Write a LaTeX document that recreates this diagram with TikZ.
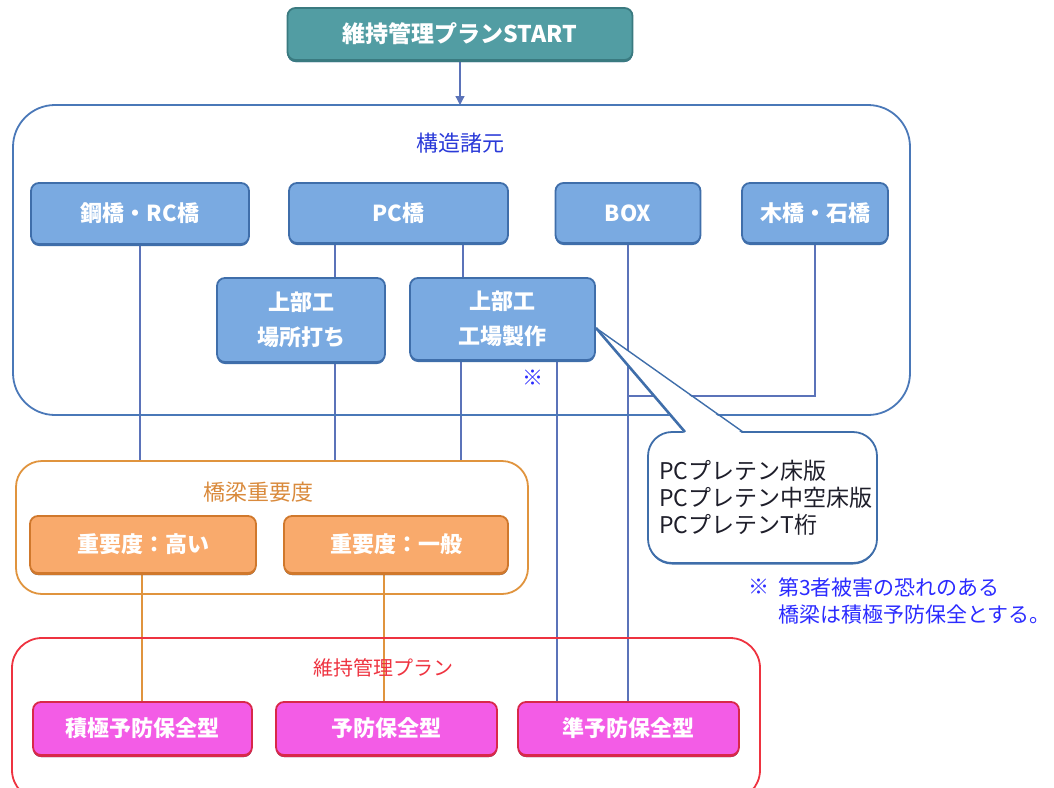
\documentclass[tikz,border=0pt]{standalone}
\usepackage{fontspec}
\setmainfont{Noto Sans CJK JP}
\usetikzlibrary{arrows.meta,backgrounds,calc,shadows}
\definecolor{tealf}{HTML}{529DA3}
\definecolor{teald}{HTML}{3A7A80}
\definecolor{bluef}{HTML}{7AAAE1}
\definecolor{blued}{HTML}{3F6EAA}
\definecolor{bigb}{HTML}{4A78B8}
\definecolor{lineb}{HTML}{5B73B9}
\definecolor{lblb}{HTML}{2A3AD8}
\definecolor{orf}{HTML}{F9AA6C}
\definecolor{ord}{HTML}{D0782C}
\definecolor{orc}{HTML}{E0943E}
\definecolor{orl}{HTML}{D98A3C}
\definecolor{redc}{HTML}{EE3340}
\definecolor{magf}{HTML}{F35CE6}
\definecolor{magd}{HTML}{D8284A}
\definecolor{fnb}{HTML}{2B2BFF}
\definecolor{cltx}{HTML}{1E1E2A}
\begin{document}
\begin{tikzpicture}[x=1pt,y=-1pt,
  every node/.style={inner sep=0pt, outer sep=0pt},
  bbox/.style={draw=blued, fill=bluef, line width=1.8pt, rounded corners=8pt,
    text=white, align=center, font=\bfseries\fontsize{22}{35}\selectfont,
    general shadow={fill=blued, shadow yshift=-2pt}},
  obox/.style={bbox, draw=ord, fill=orf, general shadow={fill=ord, shadow yshift=-2pt}},
  pbox/.style={bbox, draw=magd, fill=magf, general shadow={fill=magd, shadow yshift=-2pt}},
  sbox/.style={bbox, draw=teald, fill=tealf, font=\bfseries\fontsize{23}{28}\selectfont,
    general shadow={fill=teald, shadow yshift=-2pt}},
  cont/.style={draw=#1, line width=1.8pt},
  lbl/.style={font=\fontsize{21}{25}\selectfont},
  conn/.style={draw=lineb, line width=1.3pt},
  oconn/.style={draw=orc, line width=1.3pt},
]
\useasboundingbox (0,0) rectangle (1054,787);

% start
\node[sbox, minimum width=345pt, minimum height=52pt] (start) at (460,34) {維持管理プランSTART};

% containers
\node[cont=bigb, rounded corners=42pt, minimum width=897pt, minimum height=310pt] (kz) at (461.5,260) {};
\node[lbl, text=lblb, font=\fontsize{22}{25}\selectfont] (kzl) at (460,143) {構造諸元};

\node[cont=orc, rounded corners=26pt, minimum width=512pt, minimum height=133pt] (jy) at (272,527.5) {};
\node[lbl, text=orl, font=\fontsize{22}{25}\selectfont] (jyl) at (258,492) {橋梁重要度};

\node[cont=redc, rounded corners=30pt, minimum width=748pt, minimum height=162pt] (pl) at (386,719) {};
\node[lbl, text=redc, font=\fontsize{20}{25}\selectfont] (pll) at (383,668) {維持管理プラン};

% structure boxes
\node[bbox, minimum width=218pt, minimum height=61pt] (kohashi) at (140,213.5) {鋼橋・RC橋};
\node[bbox, minimum width=219pt, minimum height=60pt] (pc) at (398.5,213) {PC橋};
\node[bbox, minimum width=145pt, minimum height=60pt] (bx) at (628,213) {BOX};
\node[bbox, minimum width=146pt, minimum height=60pt] (moku) at (815,213) {木橋・石橋};
\node[bbox, minimum width=168pt, minimum height=84pt] (bashou) at (301,320) {上部工\\場所打ち};
\node[bbox, minimum width=185pt, minimum height=82pt] (kojo) at (502.5,319) {上部工\\工場製作};
\node[text=fnb, font=\fontsize{21}{25}\selectfont] (kome) at (533,378) {※};

% importance boxes
\node[obox, minimum width=226pt, minimum height=57pt] (takai) at (143,544.5) {重要度：高い};
\node[obox, minimum width=224pt, minimum height=57pt] (ippan) at (396,544.5) {重要度：一般};

% plan boxes
\node[pbox, minimum width=219pt, minimum height=53pt] (sek) at (142.5,728.5) {積極予防保全型};
\node[pbox, minimum width=221pt, minimum height=53pt] (yob) at (386.5,728.5) {予防保全型};
\node[pbox, minimum width=221pt, minimum height=53pt] (jun) at (628.5,728.5) {準予防保全型};

% callout
\node[draw=blued, line width=1.8pt, fill=white, rounded corners=24pt,
  minimum width=229pt, minimum height=131pt,
  general shadow={fill=blued, shadow yshift=-1.5pt}] (cl) at (762.5,497.5) {};
\node[anchor=west, align=left, text=cltx, font=\fontsize{23}{27}\selectfont] (clt) at (659,498)
  {PCプレテン床版\\PCプレテン中空床版\\PCプレテンT桁};
\coordinate (tip) at ($(kojo.east)+(1,9)$);
\coordinate (pl1) at (685,432);
\coordinate (pl2) at (743,432);
\fill[white] ($(pl1)+(0,2)$) -- (tip) -- ($(pl2)+(0,2)$) -- cycle;
\draw[blued, line width=2.6pt] (pl1) -- (tip);
\draw[blued, line width=1.4pt] (tip) -- (pl2);

% footnote
\node[text=fnb, font=\fontsize{21}{25}\selectfont] (fnm) at (759,587) {※};
\node[anchor=west, text=fnb, font=\fontsize{21}{25}\selectfont] (fn1) at (778,587) {第3者被害の恐れのある};
\node[anchor=west, text=fnb, font=\fontsize{21}{25}\selectfont] (fn2) at (778,615) {橋梁は積極予防保全とする。};

% connectors
\begin{scope}[on background layer]
\draw[conn, -{Triangle[length=9pt,width=9pt]}] (start.south) -- (kz.north -| start.south);
\draw[conn] (kohashi.south) -- (jy.north -| kohashi.south);
\draw[conn] (pc.south -| 335,0) -- (bashou.north -| 335,0);
\draw[conn] (pc.south -| 463,0) -- (kojo.north -| 463,0);
\draw[conn] (bashou.south -| 335,0) -- (jy.north -| 335,0);
\draw[conn] (kojo.south -| 461,0) -- (jy.north -| 461,0);
\draw[conn] (kojo.south -| 557,0) -- (jun.north -| 557,0);
\draw[conn] (bx.south) -- (jun.north -| bx.south);
\coordinate (mj) at (628,396);
\draw[conn] (moku.south) |- (mj);
\draw[oconn] (takai.south -| 142,0) -- (sek.north -| 142,0);
\draw[oconn] (ippan.south -| 384,0) -- (yob.north -| 384,0);
\end{scope}
\end{tikzpicture}
\end{document}
